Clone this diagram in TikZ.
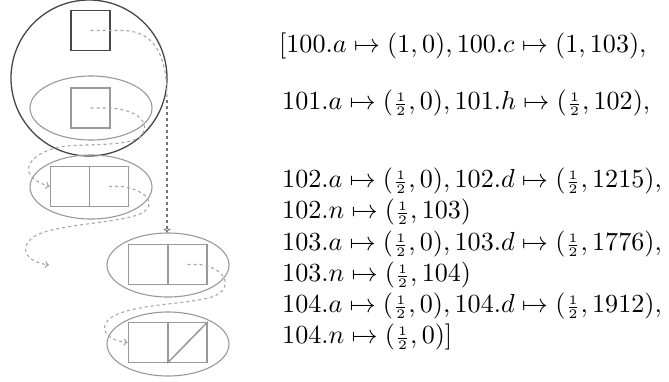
\documentclass[tikz,border=0pt]{standalone}
\usetikzlibrary{shapes.geometric,arrows.meta}
\newcommand{\bigtxt}[1]{\scalebox{2.61}{#1}}
\newcommand{\hf}{{\scriptstyle\frac{1}{2}}}
\begin{document}
\begin{tikzpicture}[x=1pt,y=-1pt,
  darkc/.style={draw=black!72,line width=1.3pt},
  sqdark/.style={rectangle,draw=black!72,line width=1.5pt,minimum width=39pt,minimum height=40pt,inner sep=0pt},
  sqlight/.style={rectangle,draw=black!40,line width=1.5pt,minimum width=39pt,minimum height=40pt,inner sep=0pt},
  ell/.style={ellipse,draw=black!40,line width=1.1pt,minimum width=122pt,minimum height=64pt,inner sep=0pt},
  dsh/.style={draw=black!35,line width=1.1pt,dash pattern=on 3pt off 3pt},
  dshdark/.style={draw=black!55,line width=1.1pt,dash pattern=on 3pt off 3pt},
  tip/.style={-{To[length=4pt,width=7pt]}},
  txt/.style={anchor=base west,inner sep=0pt}]
\useasboundingbox (0,0) rectangle (669,381);
% big circle
\node[circle,darkc,minimum size=156pt,inner sep=0pt] (circ) at (89,78) {};
\node[sqdark] (sq1) at (90.5,30.5) {};
\node[ell] (ell2) at (91,108) {};
\node[sqlight] (sq2) at (90.5,108) {};
\node[ell] (ell3) at (91,187) {};
\node[sqlight] (sq3a) at (70,186.5) {};
\node[sqlight] (sq3b) at (109,186.5) {};
\node[ell] (ell4) at (168,265) {};
\node[sqlight] (sq4a) at (148,264.5) {};
\node[sqlight] (sq4b) at (187.5,264.5) {};
\node[ell] (ell5) at (168,344) {};
\node[sqlight] (sq5a) at (148,342.5) {};
\node[sqlight] (sq5b) at (187.5,342.5) {};
\draw[draw=black!40,line width=1.5pt] (sq5b.south west) -- (sq5b.north east);
% connectors
\draw[dsh] (sq1.center) -- ++(30,0) .. controls (158,30) and (167,60) .. (167,100);
\draw[dshdark,tip] (167,100) -- (ell4.north -| 167,0);
\draw[dsh,tip] (sq2.center) -- ++(20,0) .. controls (140,110) and (152,125) .. (140,137) .. controls (128,146) and (90,144) .. (67,146) .. controls (30,150) and (12,175) .. (sq3a.west);
\coordinate (free3) at (49,265);
\draw[dsh,tip] (sq3b.center) -- ++(14,0) .. controls (148,191) and (158,205) .. (140,214) .. controls (115,224) and (50,224) .. (32,238) .. controls (18,250) and (28,262) .. (free3);
\draw[dsh,tip] (sq4b.center) -- ++(12,0) .. controls (222,267) and (236,285) .. (215,296) .. controls (190,305) and (135,303) .. (112,317) .. controls (98,326) and (104,340) .. (sq5a.west);
% text
\node[txt] (t1) at (279,52) {\bigtxt{$[100.a \mapsto (1,0), 100.c \mapsto (1,103),$}};
\node[txt] (t2) at (282,109) {\bigtxt{$101.a \mapsto (\hf,0), 101.h \mapsto (\hf,102),$}};
\node[txt] (t3) at (282,187) {\bigtxt{$102.a \mapsto (\hf,0), 102.d \mapsto (\hf,1215),$}};
\node[txt] (t4) at (282,218) {\bigtxt{$102.n \mapsto (\hf,103)$}};
\node[txt] (t5) at (282,250) {\bigtxt{$103.a \mapsto (\hf,0), 103.d \mapsto (\hf,1776),$}};
\node[txt] (t6) at (282,281) {\bigtxt{$103.n \mapsto (\hf,104)$}};
\node[txt] (t7) at (282,312) {\bigtxt{$104.a \mapsto (\hf,0), 104.d \mapsto (\hf,1912),$}};
\node[txt] (t8) at (282,343) {\bigtxt{$104.n \mapsto (\hf,0)]$}};
\end{tikzpicture}
\end{document}
